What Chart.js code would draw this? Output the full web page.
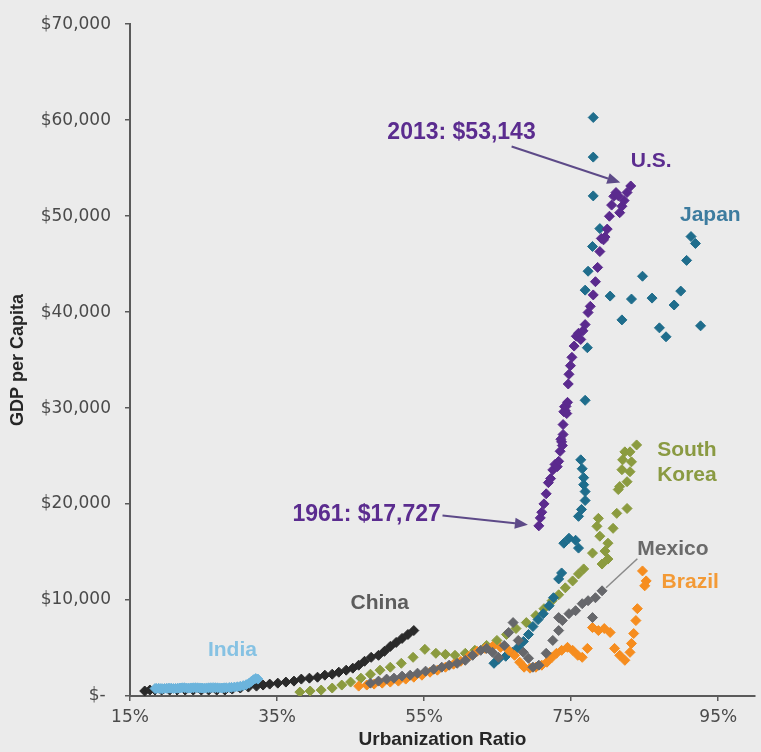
<!DOCTYPE html>
<html>
<head>
<meta charset="utf-8">
<title>GDP per Capita vs. Urbanization Ratio</title>
<script src="https://cdn.jsdelivr.net/npm/chart.js@4.4.1/dist/chart.umd.min.js"></script>
<style>
  html, body { margin: 0; padding: 0; background: #ebebeb; }
  canvas { display: block; }
</style>
</head>
<body>
<canvas id="chart" width="761" height="752"></canvas>
<script>
// ---- Axis ticks ----
const urbanTicks = [15, 35, 55, 75, 95];
const gdpTicks = [0, 10000, 20000, 30000, 40000, 50000, 60000, 70000];

// ---- U.S. (1961-2013) ----
const usUrban = [70.6, 70.8, 71.0, 71.3, 71.6, 71.9, 72.2, 72.5, 72.8, 73.1, 73.3, 73.5, 73.6, 73.7, 73.8, 73.9, 73.9, 74.0, 74.1, 74.2, 74.3, 74.4, 74.5, 74.6, 74.7, 74.9, 75.1, 75.4, 75.7, 76.0, 76.3, 76.6, 76.9, 77.3, 77.6, 78.0, 78.3, 78.6, 78.9, 79.1, 79.4, 79.6, 79.9, 80.2, 80.5, 80.8, 81.1, 81.4, 81.6, 81.9, 82.2, 82.6, 83.1];
const usGdp = [17727, 18560, 19150, 20020, 21070, 22230, 22650, 23560, 24130, 23900, 24450, 25500, 26750, 26480, 26100, 27250, 28280, 29620, 30150, 29720, 30180, 29430, 30600, 32510, 33520, 34420, 35290, 36460, 37490, 37800, 37150, 38050, 38700, 39960, 40600, 41790, 43170, 44660, 46310, 47680, 47530, 47820, 48650, 49990, 51150, 52060, 52460, 52130, 50360, 51030, 51620, 52470, 53143];

// ---- Japan ----
const japanUrban = [64.5, 65.1, 66.1, 67.0, 67.8, 68.5, 69.2, 69.8, 70.5, 71.2, 72.0, 72.6, 73.3, 73.7, 74.0, 74.7, 75.6, 76.0, 76.0, 76.4, 76.9, 76.9, 76.7, 76.7, 76.5, 76.3, 76.9, 77.2, 76.9, 77.3, 77.9, 78.9, 78.0, 78.0, 78.0, 80.3, 81.9, 83.2, 84.7, 86.0, 87.0, 87.9, 89.0, 89.9, 90.7, 91.3, 91.9, 92.6];
const japanGdp = [3410, 3830, 4140, 4550, 5070, 5690, 6410, 7240, 7960, 8580, 9410, 10240, 12200, 12820, 15920, 16440, 16230, 15410, 18720, 19440, 20370, 21300, 22020, 22750, 23680, 24610, 30810, 36290, 42290, 44260, 46840, 48700, 52110, 56150, 60280, 41670, 39190, 41360, 43740, 41460, 38360, 37430, 40740, 42190, 45390, 47870, 47150, 38570];

// ---- South Korea ----
const koreaUrban = [38.1, 39.5, 41.0, 42.5, 43.8, 45.0, 46.4, 47.7, 49.0, 50.4, 51.9, 53.5, 55.1, 56.6, 57.9, 59.2, 60.6, 61.9, 63.5, 64.9, 66.2, 67.5, 68.9, 70.2, 71.3, 72.4, 73.3, 74.2, 75.2, 76.0, 76.7, 77.9, 79.6, 80.0, 79.2, 80.0, 78.9, 78.5, 80.7, 78.7, 81.2, 82.6, 81.4, 81.6, 82.6, 81.9, 83.0, 83.2, 82.0, 82.3, 83.0, 83.9];
const koreaGdp = [410, 520, 620, 830, 1140, 1450, 1860, 2270, 2690, 3000, 3410, 4030, 4860, 4450, 4340, 4240, 4450, 4760, 5270, 5790, 6410, 7030, 7650, 8380, 9100, 9930, 10550, 11270, 11990, 12720, 13240, 14890, 15100, 14270, 13750, 15920, 16650, 17680, 17470, 18510, 19030, 19540, 21510, 21820, 22330, 23580, 23370, 24400, 24610, 25440, 25440, 26160];

// ---- Mexico ----
const mexicoUrban = [47.7, 48.8, 49.9, 50.9, 52.0, 53.1, 54.1, 55.2, 56.3, 57.4, 58.4, 59.5, 60.6, 61.6, 62.7, 63.5, 64.3, 65.1, 65.9, 66.5, 67.1, 67.8, 68.5, 69.2, 69.8, 70.6, 71.6, 72.5, 73.3, 73.3, 73.8, 74.7, 75.6, 76.5, 77.3, 77.9, 78.3, 79.2];
const mexicoGdp = [1340, 1550, 1760, 1860, 2070, 2170, 2380, 2590, 2790, 3000, 3210, 3410, 3720, 4240, 4760, 4960, 4550, 4030, 5270, 6620, 7650, 5790, 4550, 3930, 3000, 3210, 4450, 5790, 6820, 8170, 7860, 8580, 8890, 9620, 9930, 8170, 10240, 10960];

// ---- Brazil ----
const brazilUrban = [46.1, 47.2, 48.2, 49.3, 50.4, 51.5, 52.5, 53.6, 54.7, 55.8, 56.8, 57.9, 59.0, 60.0, 61.1, 62.2, 63.3, 64.3, 65.4, 66.5, 67.3, 68.0, 68.6, 69.4, 70.2, 71.0, 71.7, 72.4, 73.0, 73.7, 74.5, 75.2, 75.9, 76.5, 77.2, 77.9, 78.7, 79.5, 80.3, 80.9, 81.6, 82.3, 83.0, 83.2, 83.5, 83.8, 84.0, 84.7, 85.2, 85.0];
const brazilGdp = [1030, 1140, 1240, 1340, 1450, 1550, 1760, 1960, 2170, 2480, 2690, 3000, 3310, 3620, 4140, 4650, 4960, 5170, 5070, 4760, 4240, 3520, 3000, 2900, 3000, 3210, 3520, 4030, 4450, 4760, 5070, 4760, 4240, 4030, 4960, 7130, 6820, 7030, 6620, 4960, 4240, 3720, 4550, 5480, 6510, 7860, 9100, 13030, 11990, 11480];

// ---- China ----
const chinaUrban = [17.0, 17.7, 18.4, 19.3, 20.4, 21.4, 22.5, 23.6, 24.7, 25.7, 26.8, 27.9, 28.9, 30.0, 31.1, 32.2, 33.1, 34.0, 35.1, 36.2, 37.3, 38.3, 39.4, 40.5, 41.5, 42.5, 43.4, 44.4, 45.3, 46.1, 46.9, 47.8, 48.8, 49.6, 50.4, 51.2, 52.0, 52.8, 53.6];
const chinaGdp = [520, 620, 620, 620, 620, 620, 620, 620, 620, 620, 620, 620, 720, 830, 930, 1030, 1140, 1240, 1340, 1450, 1550, 1760, 1860, 1960, 2170, 2270, 2480, 2690, 2900, 3210, 3620, 4030, 4240, 4650, 5170, 5580, 6000, 6410, 6820];

// ---- India ----
const indiaUrban = [18.4, 18.6, 18.9, 19.2, 19.4, 19.7, 20.0, 20.3, 20.6, 20.9, 21.2, 21.5, 21.8, 22.1, 22.4, 22.7, 23.0, 23.3, 23.6, 23.9, 24.2, 24.5, 24.8, 25.1, 25.4, 25.7, 26.0, 26.3, 26.6, 26.9, 27.2, 27.5, 27.8, 28.1, 28.5, 28.8, 29.2, 29.6, 30.0, 30.4, 30.8, 31.2, 31.5, 31.8, 32.1, 32.4];
const indiaGdp = [780, 790, 800, 770, 760, 780, 800, 820, 810, 780, 790, 810, 830, 850, 860, 830, 820, 840, 850, 860, 850, 840, 830, 820, 840, 850, 860, 870, 860, 850, 840, 830, 850, 860, 880, 900, 930, 960, 1010, 1080, 1180, 1330, 1520, 1700, 1820, 1760];

// ---- Styling ----
const FONT = '"Liberation Sans", Arial, sans-serif';
const TICK_FONT = '"DejaVu Sans", Verdana, sans-serif';
const AXIS_COLOR = '#5a5a5a';

const toPoints = (xs, ys) => xs.map((v, i) => ({ x: v, y: ys[i] }));

function series(label, xs, ys, color) {
  return {
    label,
    data: toPoints(xs, ys),
    pointStyle: 'rectRot',
    pointRadius: 5,
    pointHoverRadius: 5,
    pointBackgroundColor: color,
    pointBorderColor: color,
    pointBorderWidth: 1,
    showLine: false
  };
}

// First dataset is painted last (on top)
const datasets = [
  series('U.S.', usUrban, usGdp, '#5b2a8e'),
  series('India', indiaUrban, indiaGdp, '#6cb4dc'),
  series('Mexico', mexicoUrban, mexicoGdp, '#66676b'),
  series('Brazil', brazilUrban, brazilGdp, '#f68d1f'),
  series('China', chinaUrban, chinaGdp, '#2a2a2a'),
  series('Japan', japanUrban, japanGdp, '#1f6d8c'),
  series('South Korea', koreaUrban, koreaGdp, '#8b9b3f')
];

// Text callouts, positioned in axis units
const seriesNames = [
  { lines: ['U.S.'], x: 83.1, y: 55700, color: '#5b2c8f' },
  { lines: ['Japan'], x: 89.8, y: 50050, color: '#3d7c9f' },
  { lines: ['South', 'Korea'], x: 86.7, y: 25640, color: '#8a9a42', lineGap: 25 },
  { lines: ['Mexico'], x: 84.0, y: 15300, color: '#6a6a6a' },
  { lines: ['Brazil'], x: 87.3, y: 11890, color: '#f39a36' },
  { lines: ['China'], x: 45.0, y: 9720, color: '#5c5c5c' },
  { lines: ['India'], x: 25.6, y: 4760, color: '#86c2e3' }
];

const lastUS = usUrban.length - 1;
const valueNotes = [
  { text: '2013: $' + usGdp[lastUS].toLocaleString('en-US'), x: 50.0, y: 58650,
    from: { x: 66.9, y: 57250 }, to: { x: usUrban[lastUS], y: usGdp[lastUS] } },
  { text: '1961: $' + usGdp[0].toLocaleString('en-US'), x: 37.1, y: 18900,
    from: { x: 57.5, y: 18820 }, to: { x: usUrban[0], y: usGdp[0] } }
];

const backgroundPlugin = {
  id: 'pageBackground',
  beforeDraw(chart) {
    const { ctx, width, height } = chart;
    ctx.save();
    ctx.fillStyle = '#ebebeb';
    ctx.fillRect(0, 0, width, height);
    ctx.restore();
  }
};

function drawArrow(ctx, x1, y1, x2, y2, gap, color) {
  const dx = x2 - x1, dy = y2 - y1;
  const len = Math.hypot(dx, dy);
  const ux = dx / len, uy = dy / len;
  const tx = x2 - ux * gap, ty = y2 - uy * gap;
  const head = 13, half = 5.5;
  const bx = tx - ux * head, by = ty - uy * head;
  ctx.save();
  ctx.strokeStyle = color;
  ctx.fillStyle = color;
  ctx.lineWidth = 2;
  ctx.beginPath();
  ctx.moveTo(x1, y1);
  ctx.lineTo(bx, by);
  ctx.stroke();
  ctx.beginPath();
  ctx.moveTo(tx, ty);
  ctx.lineTo(bx - uy * half, by + ux * half);
  ctx.lineTo(bx + uy * half, by - ux * half);
  ctx.closePath();
  ctx.fill();
  ctx.restore();
}

const notesPlugin = {
  id: 'chartNotes',
  afterDatasetsDraw(chart) {
    const { ctx } = chart;
    const xs = chart.scales.x, ys = chart.scales.y;
    ctx.save();
    ctx.textAlign = 'left';
    ctx.textBaseline = 'middle';

    // Leader line from the Mexico label to its latest point
    const mLast = mexicoUrban.length - 1;
    const mx = xs.getPixelForValue(mexicoUrban[mLast]);
    const my = ys.getPixelForValue(mexicoGdp[mLast]);
    const lx = xs.getPixelForValue(84.0), ly = ys.getPixelForValue(14300);
    ctx.strokeStyle = '#8a8a8a';
    ctx.lineWidth = 1.5;
    ctx.beginPath();
    ctx.moveTo(lx, ly);
    ctx.lineTo(mx + 4, my - 3);
    ctx.stroke();

    ctx.font = 'bold 21px ' + FONT;
    seriesNames.forEach(n => {
      const px = xs.getPixelForValue(n.x);
      const py = ys.getPixelForValue(n.y);
      ctx.fillStyle = n.color;
      n.lines.forEach((t, i) => ctx.fillText(t, px, py + i * (n.lineGap || 0)));
    });

    ctx.font = 'bold 23px ' + FONT;
    valueNotes.forEach(n => {
      ctx.fillStyle = '#5b2c8f';
      ctx.fillText(n.text, xs.getPixelForValue(n.x), ys.getPixelForValue(n.y));
      drawArrow(ctx,
        xs.getPixelForValue(n.from.x), ys.getPixelForValue(n.from.y),
        xs.getPixelForValue(n.to.x), ys.getPixelForValue(n.to.y),
        11, '#5d4a88');
    });
    ctx.restore();
  }
};

new Chart(document.getElementById('chart'), {
  type: 'scatter',
  data: { datasets },
  options: {
    responsive: false,
    animation: false,
    devicePixelRatio: 1,
    layout: { padding: { top: 19, right: 0, bottom: 0, left: 0 } },
    plugins: { legend: { display: false }, tooltip: { enabled: false } },
    scales: {
      x: {
        type: 'linear',
        min: 15,
        max: 100,
        afterBuildTicks: s => { s.ticks = urbanTicks.map(v => ({ value: v })); },
        afterFit: s => { s.height = 56; },
        grid: { display: true, drawOnChartArea: false, drawTicks: true, tickLength: 5, color: AXIS_COLOR, lineWidth: 1.5 },
        border: { display: true, color: AXIS_COLOR, width: 2 },
        ticks: {
          callback: v => v + '%',
          font: { family: TICK_FONT, size: 17 },
          color: '#4a4a4a',
          padding: 6,
          maxRotation: 0,
          autoSkip: false
        },
        title: {
          display: true,
          text: 'Urbanization Ratio',
          font: { family: FONT, size: 19, weight: 'bold' },
          color: '#262626',
          padding: { top: 0, bottom: 1 }
        }
      },
      y: {
        type: 'linear',
        min: 0,
        max: 70000,
        afterBuildTicks: s => { s.ticks = gdpTicks.map(v => ({ value: v })); },
        afterFit: s => { s.width = 130; },
        grid: { display: true, drawOnChartArea: false, drawTicks: true, tickLength: 5, color: AXIS_COLOR, lineWidth: 1.5 },
        border: { display: true, color: AXIS_COLOR, width: 2 },
        ticks: {
          callback: v => v === 0 ? '$- ' : '$' + v.toLocaleString('en-US'),
          font: { family: TICK_FONT, size: 17 },
          color: '#4a4a4a',
          padding: 14
        },
        title: {
          display: true,
          text: 'GDP per Capita',
          font: { family: FONT, size: 18, weight: 'bold' },
          color: '#262626',
          padding: { top: 7, bottom: 0 }
        }
      }
    }
  },
  plugins: [backgroundPlugin, notesPlugin]
});
</script>
</body>
</html>
